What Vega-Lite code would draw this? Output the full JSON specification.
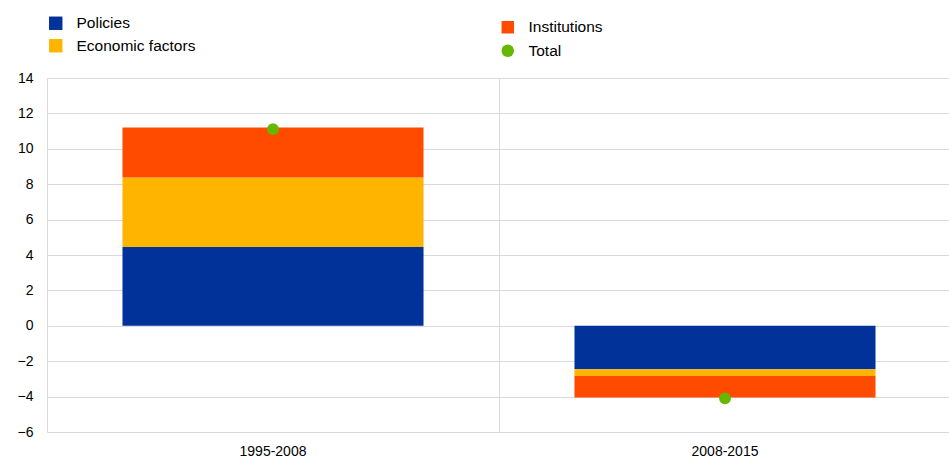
{
  "$schema": "https://vega.github.io/schema/vega-lite/v6.json",
  "autosize": {"type": "none"},
  "width": 904,
  "height": 354,
  "padding": {"left": 47, "top": 78, "right": 0, "bottom": 28},
  "background": "white",
  "config": {
    "font": "Liberation Sans",
    "view": {"stroke": null},
    "axis": {"labelFont": "Liberation Sans", "labelFontSize": 14, "labelColor": "#000000", "gridColor": "#d9d9d9", "gridWidth": 1, "ticks": false, "title": null},
    "legend": {"labelFont": "Liberation Sans", "labelFontSize": 15.5, "labelColor": "#000000", "labelOffset": 13, "symbolStrokeWidth": 0}
  },
  "datasets": {
    "parts": [
      {"period": "1995-2008", "series": "Policies", "value": 4.45, "ord": 1},
      {"period": "1995-2008", "series": "Economic factors", "value": 3.93, "ord": 2},
      {"period": "1995-2008", "series": "Institutions", "value": 2.82, "ord": 3},
      {"period": "2008-2015", "series": "Policies", "value": -2.45, "ord": 1},
      {"period": "2008-2015", "series": "Economic factors", "value": -0.39, "ord": 2},
      {"period": "2008-2015", "series": "Institutions", "value": -1.21, "ord": 3}
    ],
    "totals": [
      {"period": "1995-2008", "series": "Total", "value": 11.11},
      {"period": "2008-2015", "series": "Total", "value": -4.1}
    ]
  },
  "encoding": {
    "x": {
      "field": "period", "type": "nominal",
      "scale": {"paddingInner": 0, "paddingOuter": 0},
      "axis": {"labelAngle": 0, "grid": true, "bandPosition": 0, "domain": false, "labelPadding": 12, "labelOverlap": false}
    },
    "y": {
      "field": "value", "type": "quantitative",
      "scale": {"domain": [-6, 14], "nice": false},
      "axis": {"values": [-6, -4, -2, 0, 2, 4, 6, 8, 10, 12, 14], "domain": true, "domainColor": "#d9d9d9", "labelPadding": 14, "labelOverlap": false}
    }
  },
  "layer": [
    {
      "data": {"name": "parts"},
      "mark": {"type": "bar", "width": {"band": 0.666}},
      "encoding": {
        "y": {
          "field": "value", "type": "quantitative", "stack": "zero",
          "scale": {"domain": [-6, 14], "nice": false},
          "axis": {"values": [-6, -4, -2, 0, 2, 4, 6, 8, 10, 12, 14], "domain": true, "domainColor": "#d9d9d9", "labelPadding": 14, "labelOverlap": false}
        },
        "order": {"field": "ord", "type": "quantitative"},
        "color": {
          "field": "series", "type": "nominal",
          "scale": {"domain": ["Policies", "Economic factors", "Institutions"], "range": ["#003299", "#FFB400", "#FF4B00"]},
          "legend": {
            "title": null, "orient": "none", "legendX": 1, "legendY": -62.5,
            "values": ["Policies", "Economic factors"],
            "rowPadding": 5.5, "symbolType": "square", "symbolSize": 180
          }
        }
      }
    },
    {
      "data": {"name": "totals"},
      "mark": {"type": "point", "filled": true, "size": 140, "opacity": 1},
      "encoding": {
        "fill": {
          "field": "series", "type": "nominal",
          "scale": {"domain": ["Institutions", "Total"], "range": ["#FF4B00", "#65B800"]},
          "legend": {"title": null, "orient": "none", "legendX": 453, "legendY": -58.5, "rowPadding": 6.5, "symbolSize": 155}
        },
        "shape": {
          "field": "series", "type": "nominal",
          "scale": {"domain": ["Institutions", "Total"], "range": ["square", "circle"]},
          "legend": {"title": null, "orient": "none", "legendX": 453, "legendY": -58.5, "rowPadding": 6.5, "symbolSize": 155}
        }
      }
    }
  ]
}
